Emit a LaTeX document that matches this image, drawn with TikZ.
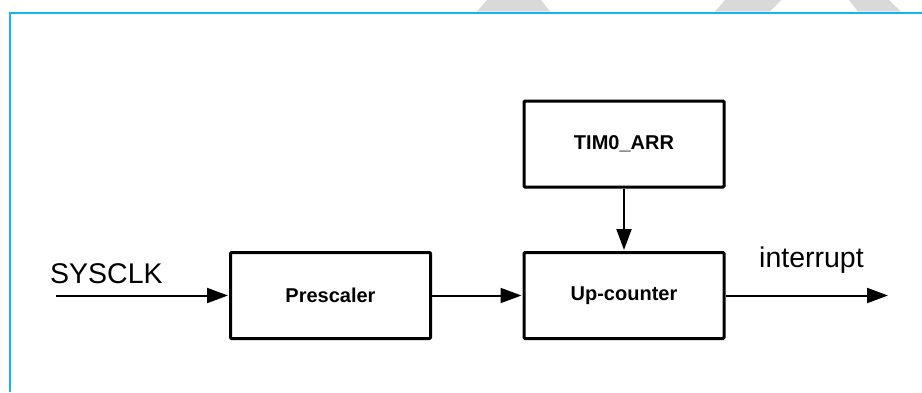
\documentclass[tikz,border=0pt]{standalone}
\usepackage{fontspec}
\setmainfont{Liberation Sans}
\usetikzlibrary{arrows.meta}
\definecolor{frameblue}{RGB}{20,182,236}
\definecolor{markgray}{RGB}{217,217,217}
\begin{document}
\begin{tikzpicture}[x=1pt, y=-1pt,
    block/.style={draw, line width=3pt, rounded corners=1pt, minimum width=200pt, minimum height=86pt, inner sep=0pt, font=\fontsize{20}{24}\selectfont\bfseries},
    signal/.style={line width=2pt, -{Triangle[length=21pt, width=15pt]}, shorten >=1pt},
    label/.style={anchor=base west, inner sep=0pt, font=\fontsize{28.5}{33}\selectfont}]
  \useasboundingbox (0,0) rectangle (922,392);
  % Frame
  \fill[markgray] (477,11.5) -- (487,0) -- (541,0) -- (550,11.5) -- cycle;
  \fill[markgray] (715,11.5) -- (725,0) -- (781,0) -- (770,11.5) -- cycle;
  \fill[markgray] (858,11.5) -- (849,0) -- (889,0) -- (901,11.5) -- cycle;
  \draw[frameblue, line width=2pt] (10,392) -- (10,12.5) -- (922,12.5);

  % Blocks
  \node[block] (pre) at (330.5,295.5) {Prescaler};
  \node[block] (cnt) at (624,295.5) {Up-counter};
  \node[block] (arr) at (624,144) {TIM0\_ARR};

  \coordinate (clk) at (56,295.5);
  \coordinate (irq) at (888,295.5);
  \node[label] (clklbl) at (50,283) {SYSCLK};
  \node[label] (irqlbl) at (759,267) {interrupt};

  \draw[signal] (clk) -- (pre);
  \draw[signal] (pre) -- (cnt);
  \draw[signal] (arr) -- (cnt);
  \draw[signal, shorten >=0pt] (cnt) -- (irq);
\end{tikzpicture}
\end{document}
